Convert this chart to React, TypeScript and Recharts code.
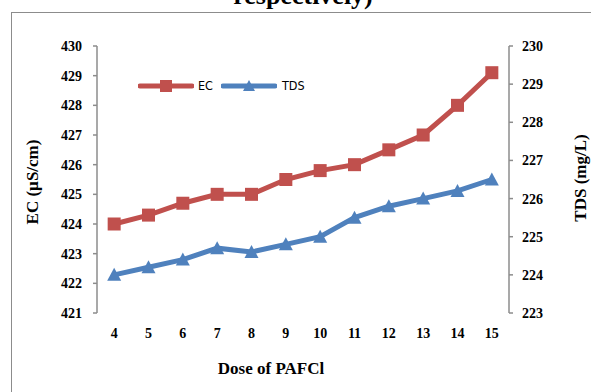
import React from 'react';
import { LineChart, Line, XAxis, YAxis, Legend } from 'recharts';

const doses = [4, 5, 6, 7, 8, 9, 10, 11, 12, 13, 14, 15];
const ecValues = [424.0, 424.3, 424.7, 425.0, 425.0, 425.5, 425.8, 426.0, 426.5, 427.0, 428.0, 429.1];
const tdsValues = [224.0, 224.2, 224.4, 224.7, 224.6, 224.8, 225.0, 225.5, 225.8, 226.0, 226.2, 226.5];
const boundaryTicks = [3.5, 4.5, 5.5, 6.5, 7.5, 8.5, 9.5, 10.5, 11.5, 12.5, 13.5, 14.5, 15.5];
const ecTicks = [421, 422, 423, 424, 425, 426, 427, 428, 429, 430];
const tdsTicks = [223, 224, 225, 226, 227, 228, 229, 230];

const data = doses.map((d, i) => ({ dose: d, EC: ecValues[i], TDS: tdsValues[i] }));

const RED = '#C0504D';
const BLUE = '#4F81BD';
const AXIS = '#8C8C8C';
const SERIF = '"Liberation Serif", "Times New Roman", serif';

const tickStyle = { fill: '#000', fontFamily: SERIF, fontWeight: 700, fontSize: 14 };

const SquareDot = (props: any) => {
  const { cx, cy } = props;
  if (cx == null || cy == null) return null;
  return <rect x={cx - 6.5} y={cy - 6.5} width={13} height={13} fill={RED} />;
};

const TriangleDot = (props: any) => {
  const { cx, cy } = props;
  if (cx == null || cy == null) return null;
  return <polygon points={`${cx},${cy - 7} ${cx - 7},${cy + 6} ${cx + 7},${cy + 6}`} fill={BLUE} />;
};

const LegendContent = () => (
  <div style={{ display: 'flex', alignItems: 'center', fontFamily: '"DejaVu Sans Condensed", "Liberation Sans Narrow", sans-serif', fontSize: 12.5, color: '#000' }}>
    <svg width={56} height={14}>
      <line x1={2} y1={7} x2={54} y2={7} stroke={RED} strokeWidth={5} strokeLinecap="round" />
      <rect x={22} y={1} width={12} height={12} fill={RED} />
    </svg>
    <span style={{ marginLeft: 4, marginRight: 8 }}>EC</span>
    <svg width={56} height={14}>
      <line x1={2} y1={7} x2={54} y2={7} stroke={BLUE} strokeWidth={5} strokeLinecap="round" />
      <polygon points="28,1 22,12 34,12" fill={BLUE} />
    </svg>
    <span style={{ marginLeft: 5 }}>TDS</span>
  </div>
);

const textBase: React.CSSProperties = {
  position: 'absolute',
  fontFamily: SERIF,
  fontWeight: 700,
  color: '#000',
  whiteSpace: 'nowrap',
  lineHeight: 1,
};

export default function App() {
  return (
    <div style={{ position: 'absolute', left: 0, top: 0, width: 591, height: 392, background: '#fff', overflow: 'hidden' }}>
      <div style={{ ...textBase, left: 0, width: 606, top: -17, textAlign: 'center', fontSize: 26 }}>respectively)</div>
      <div style={{ position: 'absolute', left: 11, top: 12, width: 600, height: 400, borderLeft: `1px solid ${AXIS}`, borderTop: `1px solid ${AXIS}` }} />
      <div style={{ position: 'absolute', left: 0, top: 0 }}>
        <LineChart width={591} height={392} data={data} margin={{ top: 46, right: 0, bottom: 49, left: 0 }}>
          <XAxis
            xAxisId="marks"
            type="number"
            dataKey="dose"
            domain={[3.5, 15.5]}
            ticks={boundaryTicks}
            tick={false}
            height={0}
            tickSize={4}
            axisLine={{ stroke: AXIS, strokeWidth: 1.5 }}
            tickLine={{ stroke: AXIS, strokeWidth: 1.5 }}
            allowDataOverflow
          />
          <XAxis
            xAxisId="main"
            type="number"
            dataKey="dose"
            domain={[3.5, 15.5]}
            ticks={doses}
            interval={0}
            height={30}
            axisLine={false}
            tickLine={false}
            tickSize={5}
            tickMargin={10}
            tick={tickStyle}
            allowDataOverflow
          />
          <YAxis
            yAxisId="left"
            orientation="left"
            width={97}
            domain={[421, 430]}
            ticks={ecTicks}
            interval={0}
            tickSize={4}
            tickMargin={11}
            tick={tickStyle}
            axisLine={{ stroke: AXIS, strokeWidth: 1.5 }}
            tickLine={{ stroke: AXIS, strokeWidth: 1.5 }}
          />
          <YAxis
            yAxisId="right"
            orientation="right"
            width={82}
            domain={[223, 230]}
            ticks={tdsTicks}
            interval={0}
            tickSize={4}
            tickMargin={9}
            tick={{ ...tickStyle, textAnchor: 'start' }}
            axisLine={{ stroke: AXIS, strokeWidth: 1.5 }}
            tickLine={{ stroke: AXIS, strokeWidth: 1.5 }}
          />
          <Legend
            layout="horizontal"
            verticalAlign="middle"
            align="center"
            content={<LegendContent />}
            wrapperStyle={{ top: 78, left: 138, width: 'auto', height: 'auto' }}
          />
          <Line
            xAxisId="main"
            yAxisId="left"
            type="linear"
            dataKey="EC"
            stroke={RED}
            strokeWidth={5}
            dot={<SquareDot />}
            activeDot={false}
            isAnimationActive={false}
          />
          <Line
            xAxisId="main"
            yAxisId="right"
            type="linear"
            dataKey="TDS"
            stroke={BLUE}
            strokeWidth={5}
            dot={<TriangleDot />}
            activeDot={false}
            isAnimationActive={false}
          />
        </LineChart>
      </div>
      <div style={{ ...textBase, left: 32, top: 182, fontSize: 17, transform: 'translate(-50%, -50%) rotate(-90deg)' }}>EC (µS/cm)</div>
      <div style={{ ...textBase, left: 580, top: 178, fontSize: 17, transform: 'translate(-50%, -50%) rotate(-90deg)' }}>TDS (mg/L)</div>
      <div style={{ ...textBase, left: 271, top: 368, fontSize: 17, transform: 'translate(-50%, -50%)' }}>Dose of PAFCl</div>
    </div>
  );
}
